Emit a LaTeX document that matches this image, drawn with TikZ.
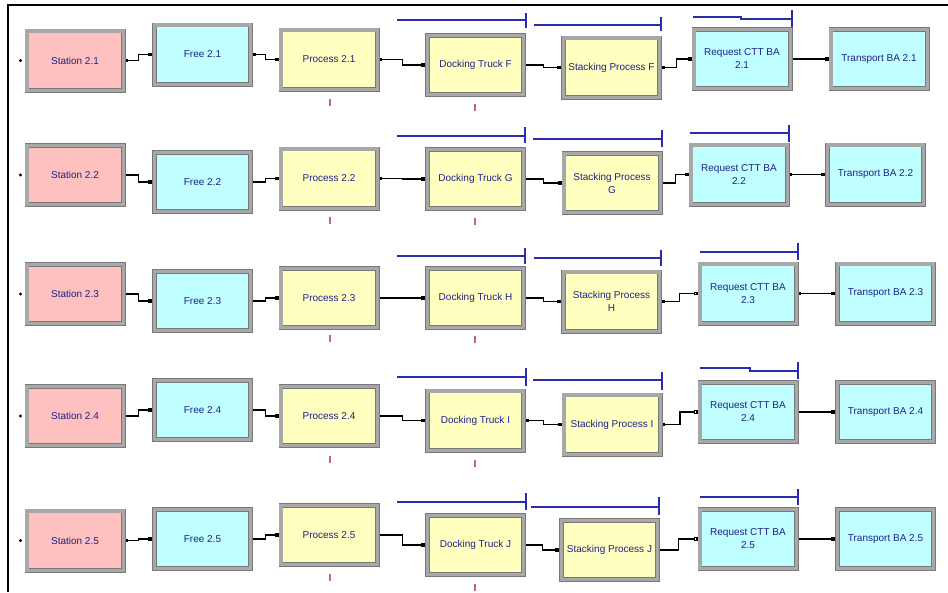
\documentclass[tikz,border=0pt]{standalone}
\usepackage{fontspec}
\newfontfamily\arenafont{Liberation Sans}
\usetikzlibrary{arrows.meta,calc}
\definecolor{stnfill}{HTML}{FFC0C0}
\definecolor{cynfill}{HTML}{C0FFFF}
\definecolor{ylwfill}{HTML}{FFFFC0}
\definecolor{txtcol}{HTML}{20208A}
\definecolor{qblue}{HTML}{2B2BB0}
\definecolor{imark}{HTML}{C46A6A}
\definecolor{frameg}{HTML}{787878}
\definecolor{bandg}{HTML}{A8A8A8}
\newcommand\queueline[5]{\draw[qline] (#1,#3) -- (#2,#3); \draw[qline] (#2,#4) -- (#2,#5);}
\newcommand\imk[2]{\draw[imkline] (#1,#2-3.5) -- (#1,#2+3.5);}
\begin{document}
\begin{tikzpicture}[x=1pt,y=-1pt,
  modbox/.style={draw=frameg, line width=0.8pt, double=bandg, double distance=3.2pt,
    minimum width=96.2pt, minimum height=59.2pt, inner sep=0pt, outer sep=2.4pt,
    align=center, text=txtcol, font=\arenafont\fontsize{10}{13}\selectfont},
  stnbox/.style={modbox, fill=stnfill},
  cynbox/.style={modbox, fill=cynfill},
  ylwbox/.style={modbox, fill=ylwfill},
  link/.style={draw=black, line width=1.1pt,
    {Square[length=2.8pt,width=2.8pt]}-{Square[length=3.6pt,width=3.6pt]},
    to path={-| ($(\tikztostart)!.5!(\tikztotarget)$) |- (\tikztotarget)}},
  linko/.style={link, {Square[length=2.8pt,width=2.8pt]}-{Square[open,length=3.8pt,width=3.8pt]}},
  qline/.style={draw=qblue, line width=1.1pt},
  imkline/.style={draw=imark, line width=1.2pt},
]
\useasboundingbox (0,0) rectangle (948,592);
\draw[line width=1.6pt] (8,592) -- (8,5) -- (948,5);

% ---------- Row 1
\node[stnbox] (st1) at (75,60.5) {Station 2.1};
\node[cynbox] (fr1) at (202.5,54.5) {Free 2.1};
\node[ylwbox] (pr1) at (329,59.5) {Process 2.1};
\node[ylwbox] (dk1) at (475.5,65) {Docking Truck F};
\node[ylwbox] (sk1) at (611.5,67.5) {Stacking Process F};
\node[cynbox] (rq1) at (742,59) {Request CTT BA\\2.1};
\node[cynbox] (tr1) at (879,59) {Transport BA 2.1};
% ---------- Row 2
\node[stnbox] (st2) at (75,175) {Station 2.2};
\node[cynbox] (fr2) at (202.5,182) {Free 2.2};
\node[ylwbox] (pr2) at (329,178.5) {Process 2.2};
\node[ylwbox] (dk2) at (475.5,179) {Docking Truck G};
\node[ylwbox] (sk2) at (612,183) {Stacking Process\\G};
\node[cynbox] (rq2) at (739,174.5) {Request CTT BA\\2.2};
\node[cynbox] (tr2) at (875.5,174.5) {Transport BA 2.2};
% ---------- Row 3
\node[stnbox] (st3) at (75,294) {Station 2.3};
\node[cynbox] (fr3) at (202.5,301) {Free 2.3};
\node[ylwbox] (pr3) at (329,298) {Process 2.3};
\node[ylwbox] (dk3) at (475.5,298) {Docking Truck H};
\node[ylwbox] (sk3) at (611.5,301.5) {Stacking Process\\H};
\node[cynbox] (rq3) at (748,293.5) {Request CTT BA\\2.3};
\node[cynbox] (tr3) at (885.5,293.5) {Transport BA 2.3};
% ---------- Row 4
\node[stnbox] (st4) at (75,416) {Station 2.4};
\node[cynbox] (fr4) at (202.5,410) {Free 2.4};
\node[ylwbox] (pr4) at (329,416) {Process 2.4};
\node[ylwbox] (dk4) at (475.5,420.5) {Docking Truck I};
\node[ylwbox] (sk4) at (612,424.5) {Stacking Process I};
\node[cynbox] (rq4) at (748,412) {Request CTT BA\\2.4};
\node[cynbox] (tr4) at (885.5,412) {Transport BA 2.4};
% ---------- Row 5
\node[stnbox] (st5) at (75,540.5) {Station 2.5};
\node[cynbox] (fr5) at (202.5,539) {Free 2.5};
\node[ylwbox] (pr5) at (329,535) {Process 2.5};
\node[ylwbox] (dk5) at (475.5,545) {Docking Truck J};
\node[ylwbox] (sk5) at (609.5,550) {Stacking Process J};
\node[cynbox] (rq5) at (748,539) {Request CTT BA\\2.5};
\node[cynbox] (tr5) at (885.5,539) {Transport BA 2.5};

% ---------- connectors
\foreach \r in {1,2,3,4,5}{
  \fill ($(st\r.west)+(-4,0)$) circle (1.7);
  \draw[link] (st\r.east) to (fr\r.west);
  \draw[link] (fr\r.east) to (pr\r.west);
  \draw[link] (pr\r.east) to (dk\r.west);
  \draw[link] (dk\r.east) to (sk\r.west);
}
\draw[link] (sk1.east) to (rq1.west);
\draw[link] (sk2.east) to (rq2.west);
\draw[linko] (sk3.east) to (rq3.west);
\draw[linko] (sk4.east) to (rq4.west);
\draw[linko] (sk5.east) to (rq5.west);
\foreach \r in {1,2,3,4,5}{
  \draw[link] (rq\r.east) to (tr\r.west);
}

% ---------- queue lines
\queueline{397}{526}{20}{13}{28}
\queueline{534}{661}{25}{17}{31}
\draw[qline] (693,17) -- (741,17) -- (741,19) -- (792,19); \draw[qline] (792,10) -- (792,27);

\queueline{397}{525}{136}{127}{143}
\queueline{533}{662}{139}{130}{147}
\queueline{690}{789}{133}{125}{142}

\queueline{397}{525}{256}{248}{264}
\queueline{534}{661}{258}{250}{266}
\queueline{700}{798}{252}{243}{260}

\queueline{397}{526}{377}{368}{386}
\queueline{533}{662}{380}{372}{390}
\draw[qline] (700,368) -- (750,368) -- (750,371) -- (798,371); \draw[qline] (798,362) -- (798,379);

\queueline{397}{526}{502}{493}{510}
\queueline{531}{659}{507}{497}{515}
\queueline{700}{798}{497}{489}{505}

% ---------- animation marks
\imk{330}{102} \imk{475}{107}
\imk{330}{220} \imk{475}{221}
\imk{330}{338} \imk{475}{339}
\imk{330}{459} \imk{475}{463}
\imk{330}{577} \imk{475}{587}
\end{tikzpicture}
\end{document}
